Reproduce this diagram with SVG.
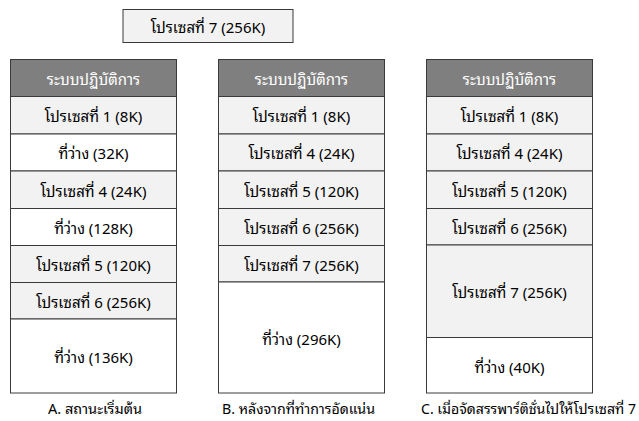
<svg xmlns="http://www.w3.org/2000/svg" width="639" height="421" viewBox="0 0 639 421">
  <style>
    text { font-family: "Noto Sans Thai Looped", "Noto Serif Thai", "Noto Sans Thai", "DejaVu Sans", sans-serif; font-size: 15px; fill: #000; }
    .mid { text-anchor: middle; dominant-baseline: central; }
    .cell { stroke: #3a3a3a; stroke-width: 1; }
    .os { fill: #7f7f7f; }
    .os-t { fill: #ffffff; }
    .proc { fill: #f2f2f2; }
    .free { fill: #ffffff; }
    .cap { font-size: 13.5px; }
  </style>
  <rect width="639" height="421" fill="#ffffff"/>

  <!-- incoming process -->
  <g id="incoming">
    <rect class="cell proc" x="123" y="9.5" width="170" height="33"/>
    <text class="mid" x="208" y="25.5">โปรเซสที่ 7 (256K)</text>
  </g>

  <!-- A: initial memory map -->
  <g id="mapA">
    <rect class="cell os" x="10.5" y="59.5" width="166" height="37"/>
    <text class="mid os-t" x="93.5" y="77.5">ระบบปฏิบัติการ</text>
    <rect class="cell proc" x="10.5" y="96.5" width="166" height="37.5"/>
    <text class="mid" x="93.5" y="115">โปรเซสที่ 1 (8K)</text>
    <rect class="cell free" x="10.5" y="134" width="166" height="37"/>
    <text class="mid" x="93.5" y="152">ที่ว่าง (32K)</text>
    <rect class="cell proc" x="10.5" y="171" width="166" height="37.5"/>
    <text class="mid" x="93.5" y="189.5">โปรเซสที่ 4 (24K)</text>
    <rect class="cell free" x="10.5" y="208.5" width="166" height="37"/>
    <text class="mid" x="93.5" y="226.5">ที่ว่าง (128K)</text>
    <rect class="cell proc" x="10.5" y="245.5" width="166" height="37"/>
    <text class="mid" x="93.5" y="263.5">โปรเซสที่ 5 (120K)</text>
    <rect class="cell proc" x="10.5" y="282.5" width="166" height="36.5"/>
    <text class="mid" x="93.5" y="300.5">โปรเซสที่ 6 (256K)</text>
    <rect class="cell free" x="10.5" y="319" width="166" height="74"/>
    <text class="mid" x="93.5" y="355.5">ที่ว่าง (136K)</text>
    <text class="cap" x="48" y="414" textLength="94" lengthAdjust="spacingAndGlyphs">A. สถานะเริ่มต้น</text>
  </g>

  <!-- B: after compaction -->
  <g id="mapB">
    <rect class="cell os" x="218.5" y="59.5" width="166" height="37"/>
    <text class="mid os-t" x="301.5" y="77.5">ระบบปฏิบัติการ</text>
    <rect class="cell proc" x="218.5" y="96.5" width="166" height="37.5"/>
    <text class="mid" x="301.5" y="115">โปรเซสที่ 1 (8K)</text>
    <rect class="cell proc" x="218.5" y="134" width="166" height="37"/>
    <text class="mid" x="301.5" y="152">โปรเซสที่ 4 (24K)</text>
    <rect class="cell proc" x="218.5" y="171" width="166" height="37.5"/>
    <text class="mid" x="301.5" y="189.5">โปรเซสที่ 5 (120K)</text>
    <rect class="cell proc" x="218.5" y="208.5" width="166" height="37"/>
    <text class="mid" x="301.5" y="226.5">โปรเซสที่ 6 (256K)</text>
    <rect class="cell proc" x="218.5" y="245.5" width="166" height="36.5"/>
    <text class="mid" x="301.5" y="263.5">โปรเซสที่ 7 (256K)</text>
    <rect class="cell free" x="218.5" y="282" width="166" height="111"/>
    <text class="mid" x="301.5" y="337.5">ที่ว่าง (296K)</text>
    <text class="cap" x="222" y="414" textLength="153" lengthAdjust="spacingAndGlyphs">B. หลังจากที่ทำการอัดแน่น</text>
  </g>

  <!-- C: after loading process 7 -->
  <g id="mapC">
    <rect class="cell os" x="426.5" y="59.5" width="166" height="37"/>
    <text class="mid os-t" x="509.5" y="77.5">ระบบปฏิบัติการ</text>
    <rect class="cell proc" x="426.5" y="96.5" width="166" height="37.5"/>
    <text class="mid" x="509.5" y="115">โปรเซสที่ 1 (8K)</text>
    <rect class="cell proc" x="426.5" y="134" width="166" height="37"/>
    <text class="mid" x="509.5" y="152">โปรเซสที่ 4 (24K)</text>
    <rect class="cell proc" x="426.5" y="171" width="166" height="37.5"/>
    <text class="mid" x="509.5" y="189.5">โปรเซสที่ 5 (120K)</text>
    <rect class="cell proc" x="426.5" y="208.5" width="166" height="36.5"/>
    <text class="mid" x="509.5" y="226.5">โปรเซสที่ 6 (256K)</text>
    <rect class="cell proc" x="426.5" y="245" width="166" height="92.5"/>
    <text class="mid" x="509.5" y="290.5">โปรเซสที่ 7 (256K)</text>
    <rect class="cell free" x="426.5" y="337.5" width="166" height="55.5"/>
    <text class="mid" x="509.5" y="365.5">ที่ว่าง (40K)</text>
    <text class="cap" x="421" y="414" textLength="215" lengthAdjust="spacingAndGlyphs">C. เมื่อจัดสรรพาร์ติชั่นไปให้โปรเซสที่ 7</text>
  </g>
</svg>
